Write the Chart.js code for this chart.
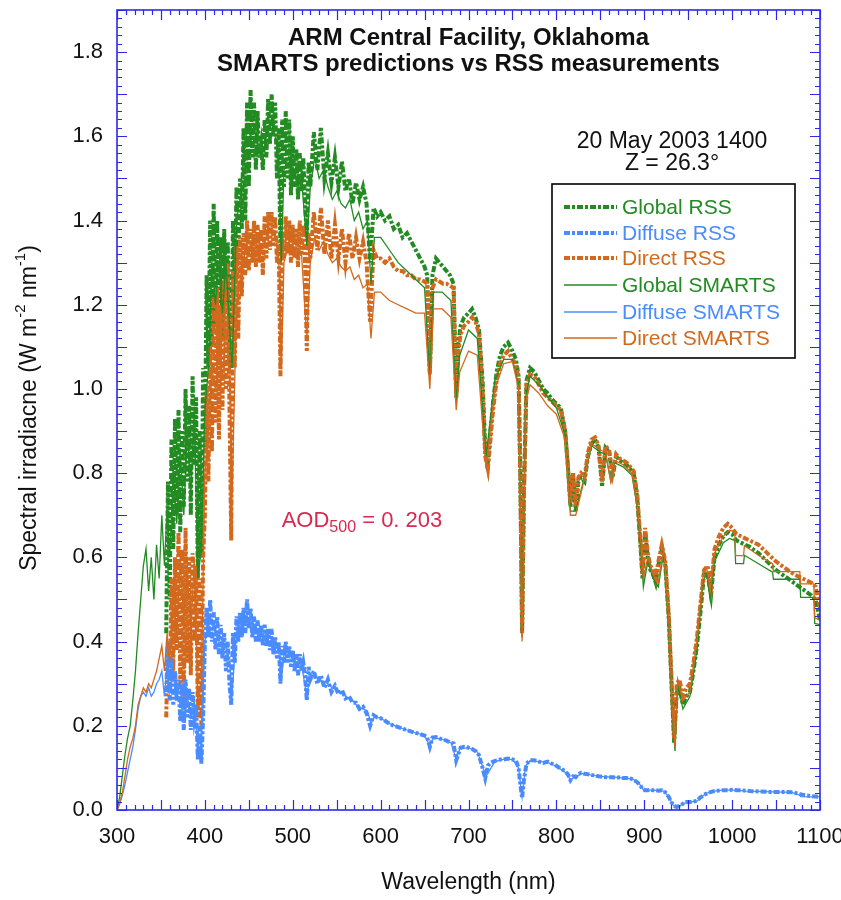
<!DOCTYPE html>
<html>
<head>
<meta charset="utf-8">
<script src="https://cdn.jsdelivr.net/npm/chart.js@4.4.0/dist/chart.umd.min.js"></script>
<style>
  body { margin: 0; background: #fff; }
  #wrap { width: 841px; height: 900px; }
</style>
</head>
<body>
<div id="wrap"><canvas id="spectrum" width="841" height="900"></canvas></div>
<script>
// Colours
const GREEN = '#228b22';
const BLUE = '#4a8cff';
const ORANGE = '#d2691e';
const AXIS_BLUE = '#2b2be6';
const AOD_RED = '#d62a50';
const FONT = "'Liberation Sans', Arial, sans-serif";

// RSS measurement grid (nm)
const wlRss = [
    356, 358, 360, 362, 364, 366, 368, 370, 372, 374,
    376, 378, 380, 382, 384, 386, 388, 390, 392, 394,
    396, 398, 400, 402, 404, 406, 408, 410, 412, 414,
    416, 418, 420, 422, 424, 426, 428, 430, 432, 434,
    436, 438, 440, 442, 444, 446, 448, 450, 452, 454,
    456, 458, 460, 462, 464, 466, 468, 470, 472, 474,
    476, 478, 480, 482, 484, 486, 488, 490, 492, 494,
    496, 498, 500, 502, 504, 506, 508, 510, 512, 514,
    516, 518, 520, 524, 528, 532, 536, 540, 544, 548,
    552, 556, 560, 564, 568, 572, 576, 580, 584, 588,
    592, 596, 600, 605, 610, 615, 620, 625, 630, 635,
    640, 645, 650, 653, 656, 659, 663, 667, 671, 675,
    679, 683, 686, 688, 691, 695, 700, 704, 708, 712,
    716, 719, 722, 725, 728, 732, 736, 740, 745, 750,
    754, 757, 759, 761, 763, 766, 770, 775, 780, 785,
    790, 795, 800, 805, 810, 813, 816, 819, 822, 825,
    828, 832, 836, 840, 844, 848, 852, 856, 860, 864,
    868, 872, 876, 880, 884, 888, 892, 895, 898, 901,
    904, 907, 910, 913, 916, 920, 924, 928, 931, 934,
    937, 940, 944, 948, 952, 956, 960, 964, 968, 972,
    976, 980, 985, 990, 995, 1000, 1005, 1010, 1020, 1030,
    1040, 1050, 1060, 1070, 1080, 1090, 1095, 1100
];

const globalRss = [
    0.42, 0.78, 0.50, 0.88, 0.62, 0.93, 0.70, 0.95, 0.66, 0.90,
    0.72, 1.00, 0.78, 0.96, 0.70, 1.03, 0.82, 0.98, 0.55, 0.90,
    0.60, 1.05, 0.85, 1.27, 1.05, 1.40, 1.10, 1.44, 1.15, 1.40,
    1.10, 1.36, 1.12, 1.38, 1.20, 1.35, 1.12, 1.05, 1.40, 1.25,
    1.48, 1.30, 1.50, 1.38, 1.62, 1.40, 1.68, 1.48, 1.71, 1.55,
    1.68, 1.52, 1.66, 1.55, 1.58, 1.52, 1.64, 1.55, 1.69, 1.58,
    1.70, 1.60, 1.68, 1.50, 1.62, 1.32, 1.64, 1.48, 1.66, 1.50,
    1.64, 1.46, 1.60, 1.48, 1.57, 1.45, 1.56, 1.47, 1.55, 1.44,
    1.36, 1.54, 1.48, 1.61, 1.52, 1.62, 1.50, 1.56, 1.49, 1.55,
    1.48, 1.54, 1.47, 1.50, 1.44, 1.49, 1.45, 1.48, 1.44, 1.30,
    1.43, 1.41, 1.42, 1.40, 1.41, 1.38, 1.39, 1.36, 1.37, 1.35,
    1.33, 1.31, 1.29, 1.27, 1.04, 1.27, 1.31, 1.30, 1.29, 1.28,
    1.27, 1.25, 0.98, 1.10, 1.15, 1.17, 1.18, 1.19, 1.17, 1.14,
    1.02, 0.86, 0.82, 0.90, 0.97, 1.04, 1.08, 1.10, 1.11, 1.09,
    1.07, 1.03, 0.80, 0.42, 0.75, 1.02, 1.05, 1.04, 1.02, 1.00,
    0.99, 0.975, 0.965, 0.955, 0.90, 0.82, 0.72, 0.80, 0.71, 0.78,
    0.79, 0.78, 0.84, 0.87, 0.88, 0.86, 0.77, 0.86, 0.85, 0.79,
    0.84, 0.83, 0.825, 0.82, 0.81, 0.80, 0.74, 0.65, 0.55, 0.66,
    0.60, 0.57, 0.56, 0.54, 0.58, 0.62, 0.58, 0.45, 0.30, 0.16,
    0.28, 0.29, 0.25, 0.27, 0.28, 0.33, 0.39, 0.47, 0.56, 0.56,
    0.51, 0.60, 0.63, 0.65, 0.66, 0.655, 0.64, 0.635, 0.625, 0.61,
    0.59, 0.57, 0.555, 0.54, 0.525, 0.51, 0.50, 0.45
];

const directRss = [
    0.22, 0.40, 0.28, 0.55, 0.33, 0.60, 0.38, 0.66, 0.30, 0.62,
    0.24, 0.67, 0.35, 0.60, 0.32, 0.61, 0.40, 0.58, 0.22, 0.55,
    0.20, 0.60, 0.70, 1.00, 0.78, 1.10, 0.85, 1.22, 0.92, 1.24,
    0.88, 1.20, 0.95, 1.26, 1.00, 1.30, 0.95, 0.64, 1.28, 1.05,
    1.34, 1.12, 1.36, 1.22, 1.37, 1.27, 1.40, 1.28, 1.38, 1.30,
    1.40, 1.29, 1.39, 1.30, 1.38, 1.27, 1.41, 1.31, 1.42, 1.33,
    1.42, 1.34, 1.41, 1.30, 1.35, 1.03, 1.36, 1.31, 1.41, 1.32,
    1.40, 1.30, 1.39, 1.31, 1.38, 1.29, 1.40, 1.32, 1.39, 1.30,
    1.09, 1.37, 1.31, 1.42, 1.33, 1.43, 1.32, 1.40, 1.31, 1.39,
    1.31, 1.38, 1.30, 1.37, 1.31, 1.36, 1.31, 1.35, 1.30, 1.16,
    1.33, 1.31, 1.31, 1.30, 1.31, 1.29, 1.28, 1.28, 1.27, 1.27,
    1.26, 1.26, 1.255, 1.25, 1.035, 1.24, 1.26, 1.255, 1.25, 1.25,
    1.245, 1.24, 0.98, 1.08, 1.13, 1.15, 1.16, 1.17, 1.16, 1.13,
    1.00, 0.84, 0.81, 0.88, 0.95, 1.02, 1.06, 1.08, 1.09, 1.07,
    1.06, 1.02, 0.78, 0.42, 0.74, 1.01, 1.035, 1.03, 1.01, 0.99,
    0.98, 0.97, 0.96, 0.95, 0.90, 0.82, 0.73, 0.80, 0.72, 0.79,
    0.80, 0.79, 0.85, 0.88, 0.885, 0.865, 0.78, 0.865, 0.855, 0.80,
    0.845, 0.835, 0.83, 0.825, 0.815, 0.805, 0.75, 0.66, 0.56, 0.67,
    0.61, 0.58, 0.57, 0.55, 0.59, 0.63, 0.59, 0.46, 0.31, 0.17,
    0.30, 0.31, 0.27, 0.29, 0.30, 0.35, 0.41, 0.49, 0.57, 0.58,
    0.53, 0.62, 0.65, 0.67, 0.68, 0.67, 0.655, 0.65, 0.64, 0.63,
    0.61, 0.59, 0.575, 0.56, 0.55, 0.54, 0.53, 0.48
];

const diffuseRss = [
    0.28, 0.40, 0.26, 0.36, 0.25, 0.33, 0.26, 0.31, 0.21, 0.30,
    0.19, 0.31, 0.22, 0.29, 0.19, 0.28, 0.22, 0.25, 0.12, 0.20,
    0.11, 0.22, 0.40, 0.48, 0.41, 0.50, 0.40, 0.47, 0.38, 0.46,
    0.37, 0.44, 0.36, 0.42, 0.33, 0.40, 0.30, 0.25, 0.42, 0.35,
    0.46, 0.40, 0.47, 0.41, 0.48, 0.42, 0.50, 0.43, 0.48, 0.41,
    0.46, 0.40, 0.45, 0.40, 0.44, 0.39, 0.44, 0.39, 0.43, 0.38,
    0.43, 0.37, 0.41, 0.36, 0.40, 0.30, 0.39, 0.35, 0.40, 0.35,
    0.39, 0.34, 0.38, 0.33, 0.37, 0.32, 0.37, 0.33, 0.35, 0.32,
    0.26, 0.34, 0.31, 0.33, 0.30, 0.32, 0.29, 0.31, 0.28, 0.295,
    0.275, 0.285, 0.265, 0.27, 0.255, 0.255, 0.24, 0.245, 0.23, 0.20,
    0.225, 0.22, 0.218, 0.212, 0.205, 0.20, 0.197, 0.193, 0.19, 0.186,
    0.183, 0.18, 0.177, 0.172, 0.15, 0.172, 0.173, 0.17, 0.167, 0.165,
    0.16, 0.158, 0.118, 0.13, 0.148, 0.15, 0.148, 0.145, 0.14, 0.13,
    0.10, 0.075, 0.105, 0.112, 0.115, 0.118, 0.12, 0.12, 0.122, 0.12,
    0.118, 0.10, 0.06, 0.028, 0.07, 0.11, 0.118, 0.118, 0.115, 0.112,
    0.115, 0.11, 0.105, 0.098, 0.092, 0.085, 0.071, 0.08, 0.078, 0.085,
    0.088, 0.086, 0.085, 0.083, 0.082, 0.08, 0.079, 0.078, 0.078, 0.078,
    0.077, 0.077, 0.076, 0.076, 0.075, 0.072, 0.066, 0.06, 0.05, 0.047,
    0.047, 0.048, 0.047, 0.047, 0.046, 0.047, 0.042, 0.031, 0.018, 0.01,
    0.007, 0.01, 0.015, 0.019, 0.019, 0.02, 0.022, 0.03, 0.036, 0.04,
    0.043, 0.045, 0.046, 0.047, 0.047, 0.048, 0.047, 0.047, 0.045, 0.044,
    0.043, 0.043, 0.043, 0.042, 0.036, 0.033, 0.032, 0.031
];

// SMARTS model grid (nm)
const wlSmarts = [
    300, 303, 306, 309, 312, 315, 318, 321, 324, 327,
    330, 333, 336, 339, 342, 345, 348, 351, 354, 357,
    360, 364, 368, 372, 376, 380, 384, 388, 392, 396,
    400, 404, 408, 412, 416, 420, 424, 428, 431, 436,
    440, 444, 448, 452, 456, 460, 464, 468, 472, 476,
    480, 484, 487, 490, 495, 500, 505, 510, 516, 520,
    525, 530, 535, 540, 545, 550, 555, 560, 565, 570,
    575, 580, 585, 589, 593, 600, 610, 620, 630, 640,
    650, 656, 660, 670, 680, 686, 690, 700, 710, 720,
    730, 740, 750, 757, 761, 765, 770, 780, 790, 800,
    810, 816, 822, 830, 840, 850, 856, 862, 866, 876,
    886, 892, 896, 899, 904, 910, 916, 922, 928, 932,
    935, 938, 944, 952, 960, 967, 971, 975, 980, 990,
    997, 1003, 1004, 1013, 1014, 1030, 1046, 1047, 1068, 1077,
    1078, 1093, 1094, 1100
];

const globalSmarts = [
    0.0, 0.03, 0.08, 0.13, 0.17, 0.20, 0.26, 0.33, 0.42, 0.50,
    0.58, 0.62, 0.52, 0.60, 0.50, 0.63, 0.55, 0.70, 0.58, 0.72,
    0.60, 0.80, 0.68, 0.85, 0.70, 0.90, 0.75, 0.95, 0.55, 0.62,
    0.95, 1.05, 1.30, 1.20, 1.30, 1.18, 1.30, 1.15, 1.05, 1.40,
    1.45, 1.55, 1.62, 1.60, 1.62, 1.58, 1.55, 1.58, 1.62, 1.63,
    1.60, 1.55, 1.30, 1.52, 1.55, 1.52, 1.50, 1.50, 1.34, 1.48,
    1.55, 1.50, 1.52, 1.48, 1.45, 1.47, 1.44, 1.43, 1.45, 1.40,
    1.42, 1.38, 1.40, 1.25, 1.36, 1.36, 1.33, 1.30, 1.28, 1.26,
    1.24, 1.03, 1.23, 1.23, 1.21, 0.97, 1.08, 1.14, 1.12, 0.84,
    1.02, 1.07, 1.07, 1.01, 0.41, 0.98, 1.03, 1.01, 0.98, 0.955,
    0.89, 0.71, 0.71, 0.775, 0.865, 0.85, 0.845, 0.78, 0.825, 0.815,
    0.795, 0.72, 0.63, 0.53, 0.59, 0.55, 0.53, 0.61, 0.44, 0.22,
    0.14, 0.30, 0.24, 0.27, 0.38, 0.545, 0.56, 0.50, 0.59, 0.635,
    0.645, 0.64, 0.585, 0.585, 0.605, 0.585, 0.565, 0.548, 0.548, 0.548,
    0.505, 0.505, 0.443, 0.44
];

const directSmarts = [
    0.0, 0.015, 0.04, 0.08, 0.12, 0.15, 0.17, 0.20, 0.25, 0.27,
    0.29, 0.28, 0.30, 0.29, 0.31, 0.33, 0.36, 0.39, 0.33, 0.42,
    0.35, 0.52, 0.40, 0.60, 0.45, 0.58, 0.42, 0.60, 0.25, 0.30,
    0.80, 0.90, 1.05, 1.00, 1.10, 1.02, 1.15, 1.02, 0.75, 1.20,
    1.25, 1.30, 1.36, 1.34, 1.36, 1.34, 1.33, 1.35, 1.37, 1.38,
    1.36, 1.32, 1.05, 1.30, 1.34, 1.32, 1.31, 1.32, 1.12, 1.30,
    1.36, 1.33, 1.35, 1.32, 1.30, 1.31, 1.29, 1.28, 1.29, 1.26,
    1.27, 1.24, 1.25, 1.12, 1.23, 1.23, 1.21, 1.20, 1.19, 1.18,
    1.18, 1.00, 1.19, 1.19, 1.17, 0.95, 1.04, 1.09, 1.08, 0.81,
    1.00, 1.06, 1.065, 1.00, 0.40, 0.97, 1.01, 0.99, 0.96, 0.94,
    0.88, 0.70, 0.70, 0.77, 0.87, 0.855, 0.85, 0.78, 0.83, 0.82,
    0.80, 0.725, 0.64, 0.55, 0.60, 0.56, 0.54, 0.62, 0.45, 0.23,
    0.15, 0.31, 0.26, 0.28, 0.40, 0.56, 0.575, 0.52, 0.61, 0.65,
    0.665, 0.66, 0.604, 0.604, 0.628, 0.605, 0.585, 0.566, 0.566, 0.566,
    0.537, 0.537, 0.457, 0.45
];

const diffuseSmarts = [
    0.0, 0.015, 0.035, 0.06, 0.09, 0.12, 0.15, 0.19, 0.24, 0.27,
    0.28, 0.27, 0.29, 0.27, 0.28, 0.30, 0.31, 0.33, 0.27, 0.35,
    0.28, 0.33, 0.27, 0.30, 0.22, 0.27, 0.22, 0.26, 0.14, 0.15,
    0.40, 0.44, 0.45, 0.42, 0.42, 0.40, 0.39, 0.35, 0.28, 0.42,
    0.44, 0.45, 0.46, 0.45, 0.44, 0.43, 0.42, 0.42, 0.41, 0.41,
    0.39, 0.38, 0.31, 0.37, 0.37, 0.36, 0.35, 0.345, 0.27, 0.32,
    0.32, 0.31, 0.305, 0.30, 0.29, 0.285, 0.28, 0.27, 0.265, 0.255,
    0.245, 0.24, 0.235, 0.205, 0.222, 0.218, 0.205, 0.197, 0.19, 0.183,
    0.177, 0.152, 0.172, 0.168, 0.16, 0.12, 0.145, 0.148, 0.138, 0.08,
    0.115, 0.12, 0.12, 0.10, 0.03, 0.105, 0.117, 0.115, 0.113, 0.104,
    0.09, 0.072, 0.08, 0.087, 0.083, 0.08, 0.079, 0.078, 0.078, 0.076,
    0.074, 0.068, 0.058, 0.048, 0.047, 0.047, 0.046, 0.045, 0.031, 0.014,
    0.007, 0.006, 0.015, 0.019, 0.021, 0.034, 0.04, 0.042, 0.045, 0.047,
    0.047, 0.047, 0.046, 0.046, 0.045, 0.044, 0.043, 0.043, 0.042, 0.035,
    0.032, 0.031, 0.031, 0.031
];

const xTickValues = [300, 400, 500, 600, 700, 800, 900, 1000, 1100];
const yTickValues = [0.0, 0.2, 0.4, 0.6, 0.8, 1.0, 1.2, 1.4, 1.6, 1.8];

const titleLines = ['ARM Central Facility, Oklahoma', 'SMARTS predictions vs RSS measurements'];
const dateLines = ['20 May 2003 1400', 'Z = 26.3\u00b0'];

const RSS_DASH = [6, 2, 3, 2];

function pairs(wl, vals) {
    return wl.map((x, i) => ({ x: x, y: vals[i] }));
}

function rssSet(label, wl, vals, color, order) {
    return {
        label: label, data: pairs(wl, vals), borderColor: color, backgroundColor: color,
        borderWidth: 4, borderDash: RSS_DASH, pointRadius: 0, tension: 0, order: order
    };
}

function smartsSet(label, wl, vals, color, order) {
    return {
        label: label, data: pairs(wl, vals), borderColor: color, backgroundColor: color,
        borderWidth: 1.3, pointRadius: 0, tension: 0, order: order
    };
}

const datasets = [
    rssSet('Global RSS', wlRss, globalRss, GREEN, 5),
    rssSet('Diffuse RSS', wlRss, diffuseRss, BLUE, 3),
    rssSet('Direct RSS', wlRss, directRss, ORANGE, 4),
    smartsSet('Global SMARTS', wlSmarts, globalSmarts, GREEN, 1),
    smartsSet('Diffuse SMARTS', wlSmarts, diffuseSmarts, BLUE, 2),
    smartsSet('Direct SMARTS', wlSmarts, directSmarts, ORANGE, 0)
];

// draws a run of text pieces (for sub/superscripts), centred on x
function drawRuns(ctx, runs, x, y) {
    let total = 0;
    runs.forEach(r => { ctx.font = r.font; total += ctx.measureText(r.t).width; });
    let cx = x - total / 2;
    runs.forEach(r => {
        ctx.font = r.font;
        ctx.fillText(r.t, cx, y + (r.dy || 0));
        cx += ctx.measureText(r.t).width;
    });
}

// no label overhang padding, so the plot box is exactly where the layout padding puts it
function noOverhang(s) {
    s.paddingTop = 0; s.paddingBottom = 0; s.paddingLeft = 0; s.paddingRight = 0;
}

const decorPlugin = {
    id: 'decor',
    afterDatasetsDraw(chart) {
        const { ctx, chartArea: a, scales: { x, y } } = chart;
        ctx.save();

        // frame with inward ticks on all four sides
        ctx.strokeStyle = AXIS_BLUE;
        ctx.lineWidth = 1.6;
        ctx.strokeRect(a.left, a.top, a.right - a.left, a.bottom - a.top);
        ctx.lineWidth = 1.2;
        ctx.beginPath();
        for (let v = 300; v <= 1100; v += 10) {
            const px = Math.round(x.getPixelForValue(v)) + 0.5;
            const len = v % 50 === 0 ? 10 : 5;
            ctx.moveTo(px, a.bottom); ctx.lineTo(px, a.bottom - len);
            ctx.moveTo(px, a.top); ctx.lineTo(px, a.top + len);
        }
        for (let i = 0; i <= 95; i++) {
            const py = Math.round(y.getPixelForValue(i * 0.02)) + 0.5;
            const len = i % 5 === 0 ? 10 : 5;
            ctx.moveTo(a.left, py); ctx.lineTo(a.left + len, py);
            ctx.moveTo(a.right, py); ctx.lineTo(a.right - len, py);
        }
        ctx.stroke();

        // title
        ctx.fillStyle = '#111';
        ctx.textAlign = 'center';
        ctx.textBaseline = 'middle';
        ctx.font = 'bold 24px ' + FONT;
        ctx.fillText(titleLines[0], (a.left + a.right) / 2, 38);
        ctx.fillText(titleLines[1], (a.left + a.right) / 2, 64);

        // date / zenith
        ctx.font = '23px ' + FONT;
        ctx.fillText(dateLines[0], 672, 142);
        ctx.fillText(dateLines[1], 672, 164);

        // legend box
        const lx = 552, ly = 184, lw = 243, lh = 174;
        ctx.fillStyle = '#fff';
        ctx.fillRect(lx, ly, lw, lh);
        ctx.strokeStyle = '#000';
        ctx.lineWidth = 1.6;
        ctx.strokeRect(lx, ly, lw, lh);
        ctx.textAlign = 'left';
        ctx.font = '21px ' + FONT;
        const rowY = [207, 233, 258, 285, 312, 338];
        chart.data.datasets.forEach((ds, k) => {
            ctx.beginPath();
            ctx.strokeStyle = ds.borderColor;
            ctx.lineWidth = ds.borderWidth;
            ctx.setLineDash(ds.borderDash || []);
            ctx.moveTo(564, rowY[k]);
            ctx.lineTo(617, rowY[k]);
            ctx.stroke();
            ctx.setLineDash([]);
            ctx.fillStyle = ds.borderColor;
            ctx.fillText(ds.label, 622, rowY[k] + 1);
        });

        // AOD annotation
        ctx.fillStyle = AOD_RED;
        ctx.textAlign = 'left';
        drawRuns(ctx, [
            { t: 'AOD', font: '22px ' + FONT },
            { t: '500', font: '16px ' + FONT, dy: 7 },
            { t: ' = 0. 203', font: '22px ' + FONT }
        ], 362, 521);

        // axis titles
        ctx.fillStyle = '#111';
        ctx.font = '23px ' + FONT;
        ctx.textAlign = 'center';
        ctx.fillText('Wavelength (nm)', (a.left + a.right) / 2, 883);

        ctx.translate(30, 408);
        ctx.rotate(-Math.PI / 2);
        ctx.textAlign = 'left';
        drawRuns(ctx, [
            { t: 'Spectral irradiacne (W m', font: '23px ' + FONT },
            { t: '-2', font: '15px ' + FONT, dy: -9 },
            { t: ' nm', font: '23px ' + FONT },
            { t: '-1', font: '15px ' + FONT, dy: -9 },
            { t: ')', font: '23px ' + FONT }
        ], 0, 0);
        ctx.restore();
    }
};

new Chart(document.getElementById('spectrum').getContext('2d'), {
    type: 'line',
    data: { datasets: datasets },
    options: {
        responsive: false,
        animation: false,
        events: [],
        layout: { padding: { left: 0, top: 10, right: 21, bottom: 0 } },
        plugins: { legend: { display: false }, tooltip: { enabled: false } },
        scales: {
            x: {
                type: 'linear', min: 300, max: 1100,
                afterFit: s => { s.height = 90; noOverhang(s); },
                afterBuildTicks: s => { s.ticks = xTickValues.map(v => ({ value: v })); },
                grid: { display: false, drawTicks: false },
                border: { display: false },
                ticks: {
                    color: '#111', padding: 14, font: { family: FONT, size: 22 }, maxRotation: 0,
                    callback: v => String(v)
                }
            },
            y: {
                type: 'linear', min: 0, max: 1.9,
                afterFit: s => { s.width = 117; noOverhang(s); },
                afterBuildTicks: s => { s.ticks = yTickValues.map(v => ({ value: v })); },
                grid: { display: false, drawTicks: false },
                border: { display: false },
                ticks: {
                    color: '#111', padding: 14, font: { family: FONT, size: 22 },
                    callback: v => v.toFixed(1)
                }
            }
        }
    },
    plugins: [decorPlugin]
});
</script>
</body>
</html>
